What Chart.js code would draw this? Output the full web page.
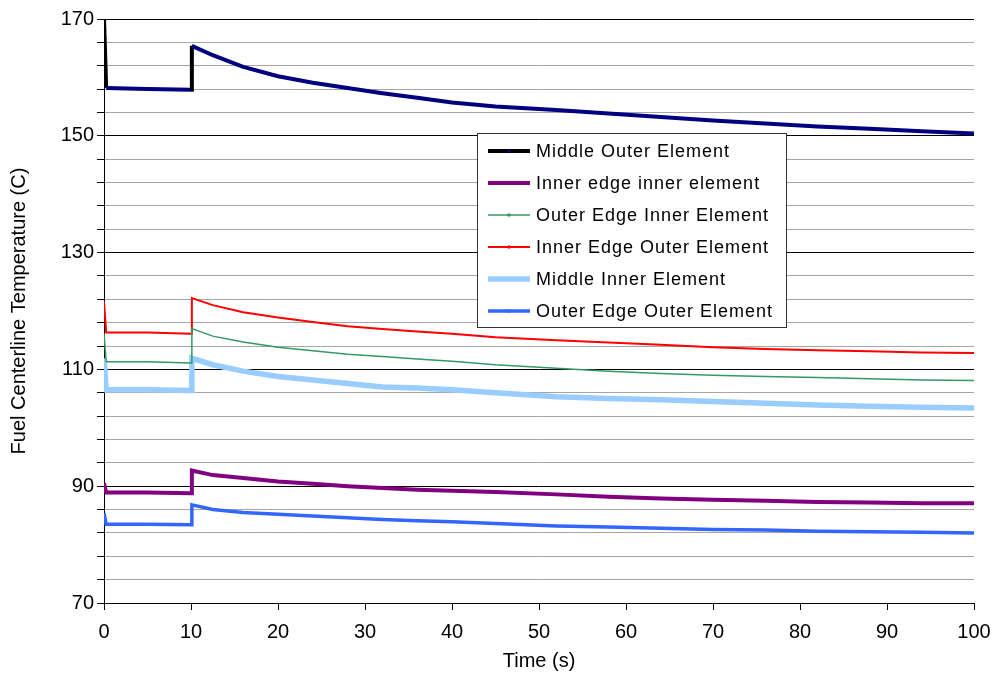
<!DOCTYPE html>
<html>
<head>
<meta charset="utf-8">
<script src="https://cdn.jsdelivr.net/npm/chart.js@4.4.1/dist/chart.umd.min.js"></script>
<style>
html,body{margin:0;padding:0;background:#fff;}
#wrap{width:995px;height:675px;}
</style>
</head>
<body>
<div id="wrap"><canvas id="c" width="995" height="675"></canvas></div>
<script>
// ---- data ----
const TIME = [0, 0.25, 5, 10, 10.1, 12.5, 16, 20, 24, 28, 32, 36, 40, 45, 52, 58, 64, 70, 76, 82, 88, 94, 100];
const MIDDLE_OUTER = [170, 158.2, 158.0, 157.9, 165.4, 163.8, 161.8, 160.2, 159.1, 158.2, 157.3, 156.5, 155.7, 155.0, 154.4, 153.8, 153.2, 152.6, 152.1, 151.6, 151.2, 150.8, 150.4];
const INNER_EDGE_INNER = [90.5, 88.9, 88.9, 88.8, 92.7, 91.9, 91.4, 90.8, 90.4, 90.0, 89.7, 89.4, 89.2, 89.0, 88.6, 88.2, 87.9, 87.7, 87.5, 87.3, 87.2, 87.1, 87.1];
const OUTER_EDGE_INNER = [116.2, 111.3, 111.3, 111.1, 117.0, 115.7, 114.7, 113.8, 113.2, 112.6, 112.2, 111.8, 111.4, 110.8, 110.2, 109.7, 109.3, 109.0, 108.8, 108.6, 108.4, 108.2, 108.1];
const INNER_EDGE_OUTER = [121.6, 116.3, 116.3, 116.1, 122.2, 121.0, 119.8, 118.9, 118.1, 117.4, 116.9, 116.5, 116.1, 115.5, 115.0, 114.6, 114.2, 113.8, 113.5, 113.3, 113.1, 112.9, 112.8];
const MIDDLE_INNER = [111.9, 106.5, 106.5, 106.4, 111.9, 110.8, 109.7, 108.8, 108.2, 107.6, 107.0, 106.8, 106.5, 106.0, 105.3, 105.0, 104.8, 104.5, 104.2, 103.9, 103.7, 103.5, 103.4];
const OUTER_EDGE_OUTER = [85.4, 83.5, 83.5, 83.4, 86.8, 86.0, 85.5, 85.2, 84.9, 84.6, 84.3, 84.1, 83.9, 83.6, 83.2, 83.0, 82.8, 82.6, 82.5, 82.3, 82.2, 82.1, 82.0];
const SERIES_LABELS = ['Middle Outer Element', 'Inner edge inner element', 'Outer Edge Inner Element', 'Inner Edge Outer Element', 'Middle Inner Element', 'Outer Edge Outer Element'];
const Y_MIN = 70, Y_MAX = 170, Y_MINOR_STEP = 4;
const Y_TICK_LABELS = [70, 90, 110, 130, 150, 170];
const X_TICK_LABELS = [0, 10, 20, 30, 40, 50, 60, 70, 80, 90, 100];

const FONT = "'Liberation Sans', Arial, sans-serif";
const pts = arr => TIME.map((t, i) => ({x: t, y: arr[i]}));

const styles = [
  {color: '#000080', legendLine: '#000000', width: 4},
  {color: '#800080', legendLine: '#800080', width: 4},
  {color: '#339966', legendLine: '#339966', width: 1.5},
  {color: '#FF0000', legendLine: '#FF0000', width: 2},
  {color: '#99CCFF', legendLine: '#99CCFF', width: 5.5},
  {color: '#3366FF', legendLine: '#3366FF', width: 3.5}
];
const seriesData = [MIDDLE_OUTER, INNER_EDGE_INNER, OUTER_EDGE_INNER, INNER_EDGE_OUTER, MIDDLE_INNER, OUTER_EDGE_OUTER];

const datasets = seriesData.map((arr, i) => ({
  label: SERIES_LABELS[i],
  data: pts(arr),
  borderColor: styles[i].color,
  backgroundColor: styles[i].color,
  borderWidth: styles[i].width,
  pointRadius: 0,
  tension: 0,
  fill: false,
  legendLine: styles[i].legendLine,
  segment: i === 0 ? {
    borderColor: c => (c.p1.parsed.x - c.p0.parsed.x) < 0.5 ? '#000000' : undefined
  } : undefined
}));

const legendPlugin = {
  id: 'boxLegend',
  afterDraw(chart) {
    const ctx = chart.ctx;
    const x0 = 477, y0 = 133, w = 309, h = 194;
    ctx.save();
    ctx.fillStyle = '#ffffff';
    ctx.fillRect(x0, y0, w, h);
    ctx.strokeStyle = '#333333';
    ctx.lineWidth = 1;
    ctx.strokeRect(x0 + 0.5, y0 + 0.5, w, h);
    ctx.font = '18px ' + FONT;
    ctx.textBaseline = 'middle';
    ctx.fillStyle = '#000';
    try { ctx.letterSpacing = '1px'; } catch (e) {}
    chart.data.datasets.forEach((ds, i) => {
      const yy = y0 + 18 + i * 32;
      ctx.beginPath();
      ctx.strokeStyle = ds.legendLine;
      ctx.lineWidth = ds.borderWidth;
      ctx.moveTo(488, yy);
      ctx.lineTo(530, yy);
      ctx.stroke();
      ctx.beginPath();
      ctx.fillStyle = ds.borderColor;
      ctx.arc(509, yy, 1.8, 0, Math.PI * 2);
      ctx.fill();
      ctx.fillStyle = '#000';
      ctx.fillText(ds.label, 536, yy + 1);
    });
    ctx.restore();
  }
};

new Chart(document.getElementById('c'), {
  type: 'line',
  data: {datasets},
  plugins: [legendPlugin],
  options: {
    responsive: false,
    animation: false,
    layout: {padding: {top: 19, right: 21, left: 0, bottom: 0}},
    plugins: {legend: {display: false}, tooltip: {enabled: false}},
    scales: {
      x: {
        type: 'linear', min: 0, max: 100,
        afterBuildTicks: s => { s.ticks = X_TICK_LABELS.map(v => ({value: v})); },
        afterFit: s => { s.height = 72; s.paddingRight = 0; s.paddingLeft = 0; },
        ticks: {font: {family: FONT, size: 20}, color: '#000', padding: 10, maxRotation: 0},
        grid: {drawOnChartArea: false, drawTicks: true, tickLength: 7, tickColor: '#000'},
        border: {color: '#000', width: 1},
        title: {display: true, text: 'Time (s)', font: {family: FONT, size: 20}, color: '#000', padding: {top: 0, bottom: 2}}
      },
      y: {
        type: 'linear', min: Y_MIN, max: Y_MAX,
        afterBuildTicks: s => {
          const t = [];
          for (let v = Y_MIN; v <= Y_MAX; v += Y_MINOR_STEP) t.push({value: v});
          s.ticks = t;
        },
        afterFit: s => { s.width = 104; },
        ticks: {
          font: {family: FONT, size: 20}, color: '#000', padding: 3, autoSkip: false,
          callback: v => Y_TICK_LABELS.includes(v) ? String(v) : ''
        },
        grid: {
          color: c => Y_TICK_LABELS.includes(c.tick.value) ? '#000000' : '#a6a6a6',
          lineWidth: 1, drawTicks: true, tickLength: 7, tickColor: '#000'
        },
        border: {color: '#000', width: 1},
        title: {display: true, text: 'Fuel Centerline Temperature (C)', font: {family: FONT, size: 20}, color: '#000', padding: {top: 7, bottom: 0}}
      }
    }
  }
});
</script>
</body>
</html>
